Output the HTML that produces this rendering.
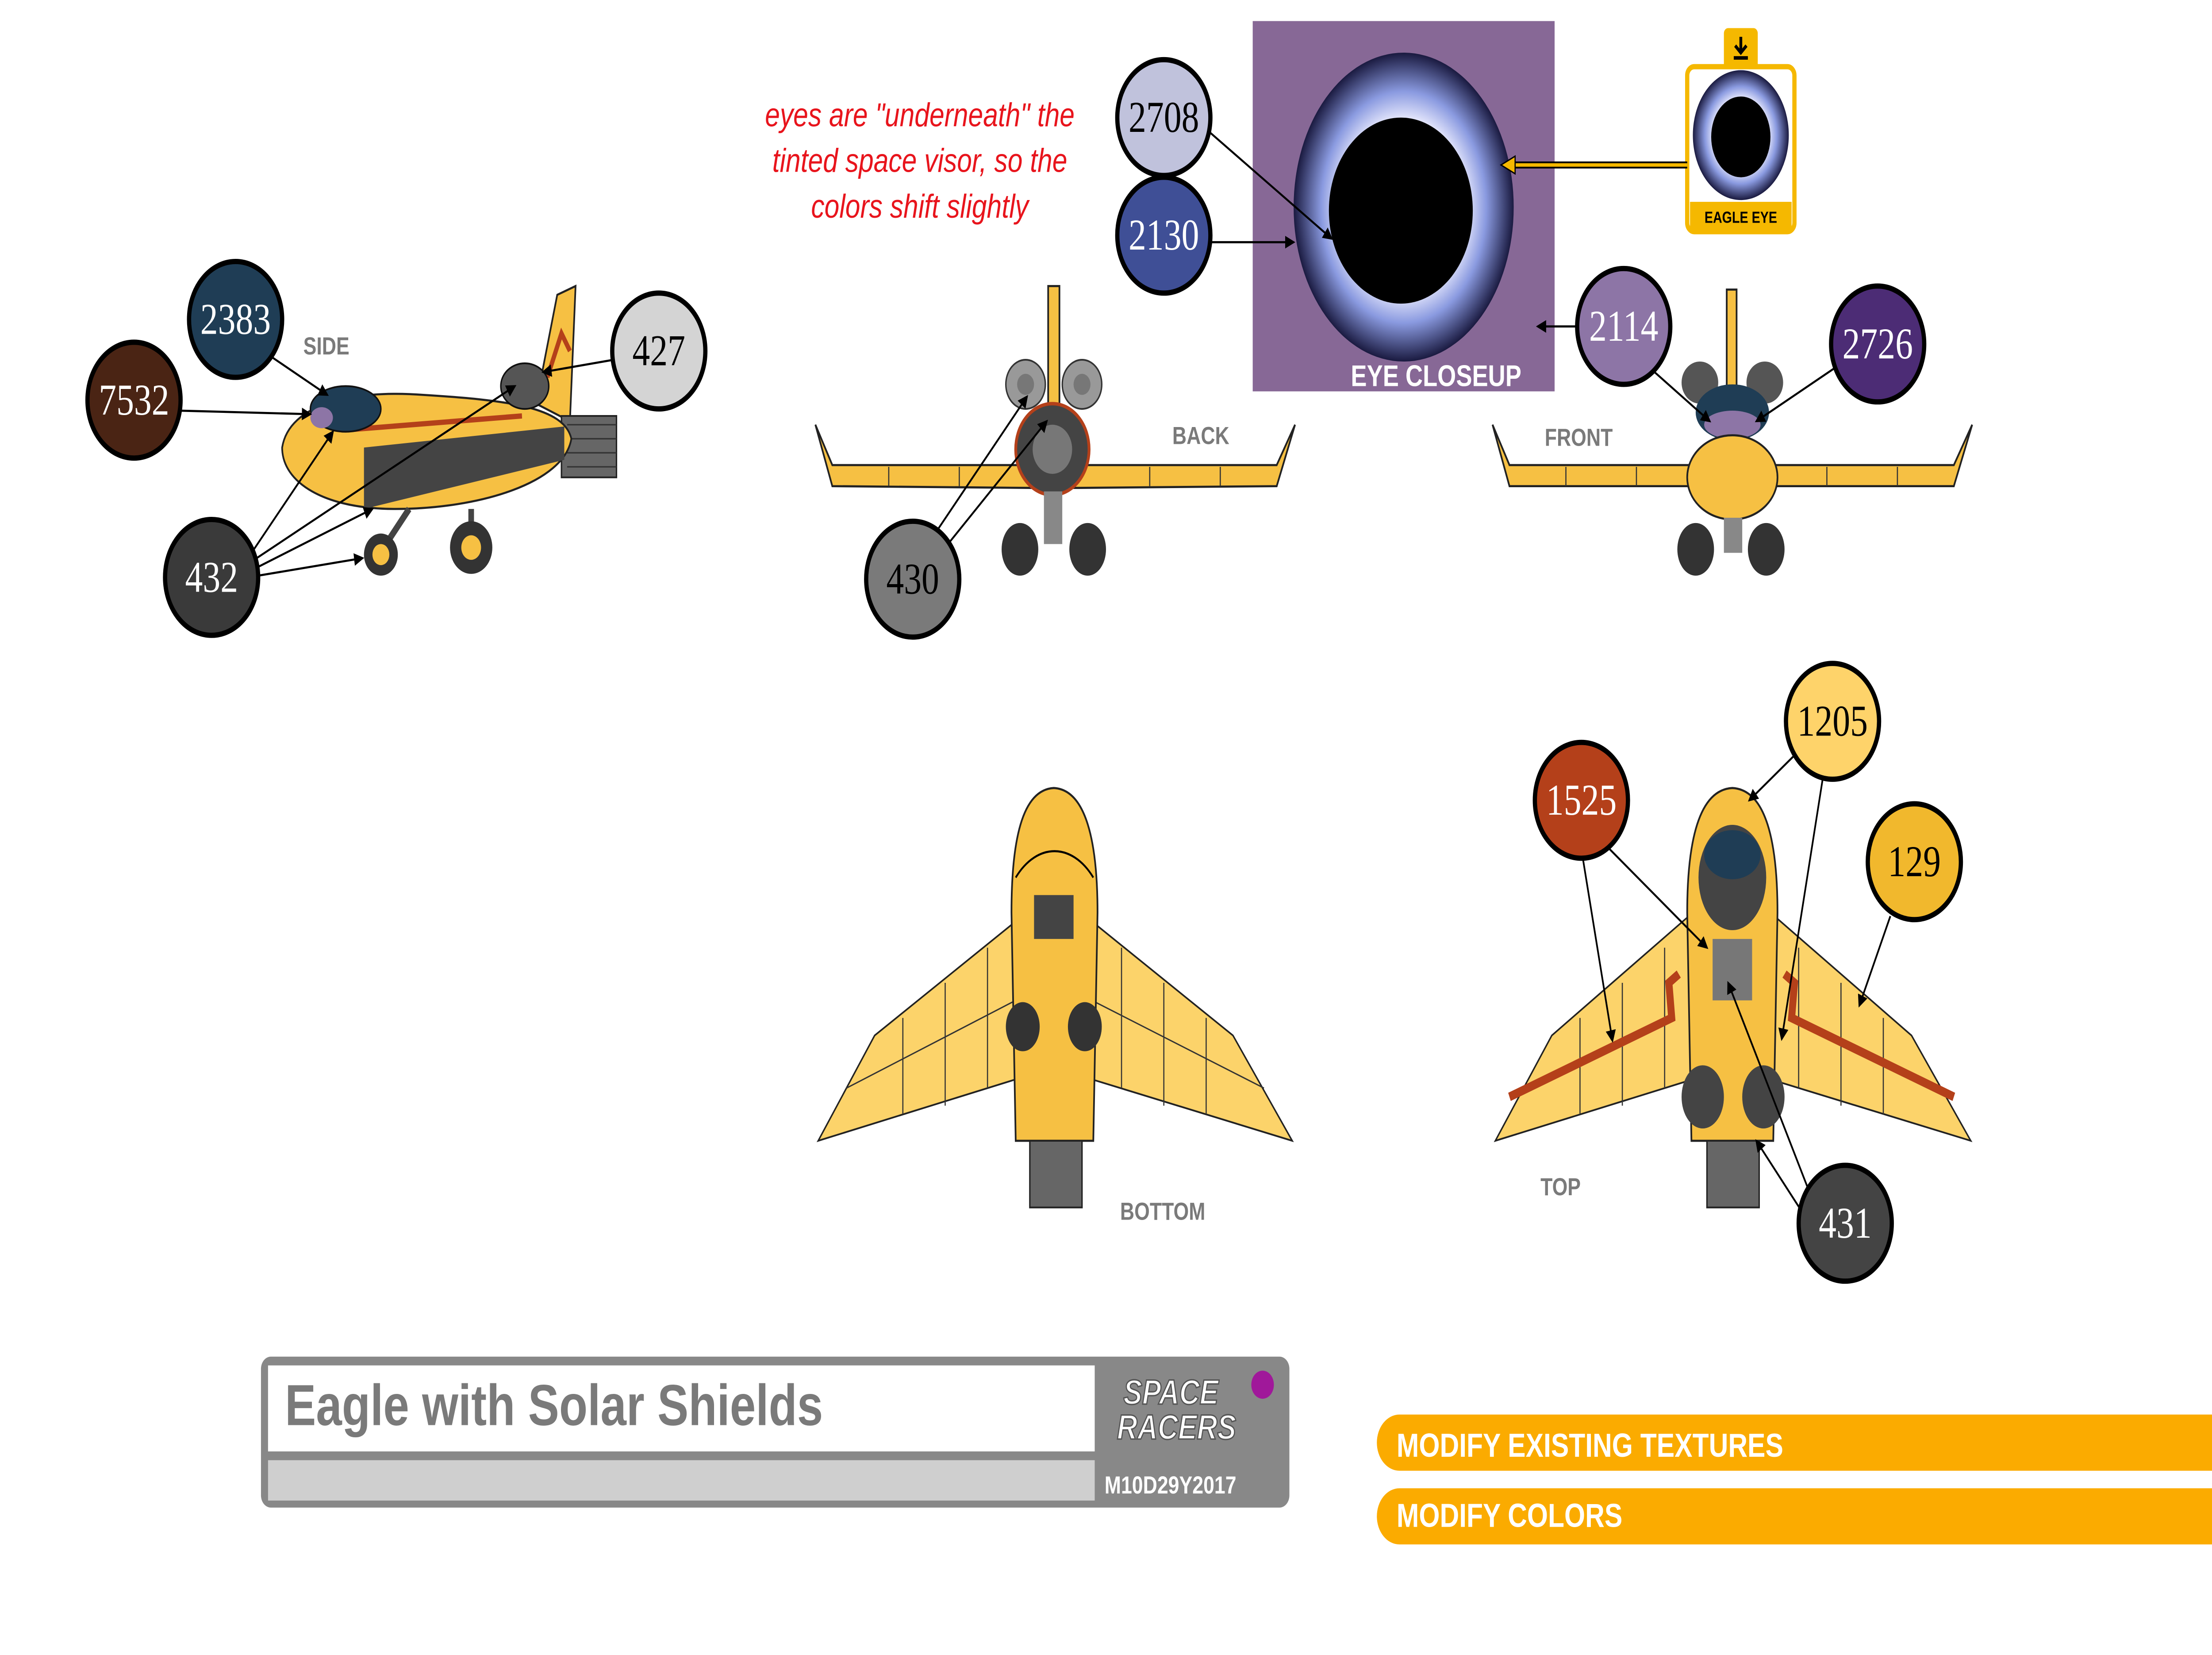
<!DOCTYPE html>
<html><head><meta charset="utf-8"><style>
html,body{margin:0;padding:0;background:#fff;width:100%;height:100%;overflow:hidden}
svg{display:block;position:absolute;left:0;top:0;width:100vw;height:100vh}
.n{font-family:"Liberation Serif",serif;font-size:25px;text-anchor:middle;dominant-baseline:central}
.lb{font-family:"Liberation Sans",sans-serif;font-weight:bold;font-size:14px;fill:#7a7a7a}
.c{stroke:#000;stroke-width:3}
.l{stroke:#000;stroke-width:1.2;fill:none}
.p{stroke:#333;stroke-width:0.8;fill:none}
.y{fill:#f6c043;stroke:#222;stroke-width:1.2}
.yl{fill:#fcd36a;stroke:#222;stroke-width:1}
.g{fill:#666;stroke:#222;stroke-width:1}
</style></head><body>
<svg viewBox="0 0 1568 943" preserveAspectRatio="none" xmlns="http://www.w3.org/2000/svg">
<defs>
<marker id="a" markerWidth="6" markerHeight="6" refX="5" refY="3" orient="auto"><path d="M0,0L6,3L0,6z" fill="#000"/></marker>
<radialGradient id="eg" cx="50%" cy="50%" r="50%"><stop offset="55%" stop-color="#f0f0ff"/><stop offset="75%" stop-color="#8a9ae0"/><stop offset="100%" stop-color="#1a1a40"/></radialGradient>
</defs>

<rect x="888" y="12" width="214" height="211" fill="#876896"/>
<ellipse cx="995" cy="118" rx="78" ry="88" fill="url(#eg)"/>
<ellipse cx="993" cy="120" rx="51" ry="53" fill="#000"/>
<text x="1018" y="220" font-family="Liberation Sans,sans-serif" font-size="17" font-weight="bold" fill="#fff" text-anchor="middle">EYE CLOSEUP</text>

<rect x="1222" y="16" width="24" height="24" rx="3" fill="#f5b800"/>
<path d="M1234,21v9M1230,26l4,4l4,-4M1229,33h10" stroke="#000" stroke-width="2" fill="none"/>
<rect x="1196" y="38" width="76" height="94" rx="5" fill="#fff" stroke="#f5b800" stroke-width="3"/>
<ellipse cx="1234" cy="77" rx="34" ry="37" fill="url(#eg)"/>
<ellipse cx="1234" cy="78" rx="21" ry="23" fill="#000"/>
<rect x="1198" y="115" width="72" height="16" fill="#f5b800"/>
<text x="1234" y="127" font-family="Liberation Sans,sans-serif" font-size="9" font-weight="bold" text-anchor="middle">EAGLE EYE</text>
<line x1="1196" y1="94" x2="1070" y2="94" stroke="#000" stroke-width="4"/>
<line x1="1196" y1="94" x2="1070" y2="94" stroke="#f5b800" stroke-width="2"/>
<path d="M1064,94l10,-5v10z" fill="#f5b800" stroke="#000" stroke-width="0.8"/>

<g font-family="Liberation Sans,sans-serif" font-style="italic" font-size="19" fill="#e8141c" text-anchor="middle">
<text x="652" y="72">eyes are "underneath" the</text>
<text x="652" y="98">tinted space visor, so the</text>
<text x="652" y="124">colors shift slightly</text>
</g>

<!-- SIDE -->
<path d="M380,230 L395,168 L408,163 L404,240z" class="y"/>
<path d="M388,215l10,-25l6,10" stroke="#b4401a" stroke-width="3" fill="none"/>
<rect x="398" y="237" width="39" height="35" class="g"/>
<path d="M402,242h35M402,250h35M402,258h35M402,266h35" class="p"/>
<path d="M200,255 C205,230 250,222 300,225 C360,228 400,232 405,250 C400,275 340,290 280,290 C230,290 200,275 200,255z" class="y"/>
<path d="M258,255 L400,243 L400,262 L258,290z" fill="#444"/>
<path d="M245,245 L370,237" stroke="#b4401a" stroke-width="3"/>
<ellipse cx="245" cy="233" rx="25" ry="13" fill="#1f3d55" stroke="#111"/>
<ellipse cx="228" cy="238" rx="8" ry="6" fill="#8d75a6"/>
<ellipse cx="372" cy="220" rx="17" ry="13" fill="#555" stroke="#111"/>
<path d="M290,290 L272,312" stroke="#444" stroke-width="4"/>
<path d="M334,290 L334,305" stroke="#444" stroke-width="4"/>
<circle cx="270" cy="316" r="12" fill="#333"/><circle cx="270" cy="316" r="6" fill="#f6c043"/>
<circle cx="334" cy="312" r="15" fill="#333"/><circle cx="334" cy="312" r="7" fill="#f6c043"/>
<text x="215" y="202" class="lb">SIDE</text>

<!-- BACK -->
<path d="M578,242 L590,265 L730,265 L765,265 L905,265 L918,242 L905,277 L765,278 L730,278 L590,277z" class="y"/>
<path d="M630,266v11M680,266v11M815,266v11M865,266v11" class="p"/>
<rect x="743" y="163" width="8" height="70" class="y"/>
<circle cx="727" cy="219" r="14" fill="#999" stroke="#333"/><circle cx="727" cy="219" r="6" fill="#777"/>
<circle cx="767" cy="219" r="14" fill="#999" stroke="#333"/><circle cx="767" cy="219" r="6" fill="#777"/>
<circle cx="746" cy="256" r="26" fill="#444" stroke="#b4401a" stroke-width="2"/>
<circle cx="746" cy="256" r="14" fill="#777"/>
<rect x="740" y="280" width="13" height="30" fill="#888"/>
<ellipse cx="723" cy="313" rx="13" ry="15" fill="#333"/><ellipse cx="771" cy="313" rx="13" ry="15" fill="#333"/>
<text x="831" y="253" class="lb">BACK</text>

<!-- FRONT -->
<path d="M1058,242 L1070,265 L1385,265 L1398,242 L1385,277 L1070,277z" class="y"/>
<path d="M1110,266v11M1160,266v11M1295,266v11M1345,266v11" class="p"/>
<rect x="1224" y="165" width="7" height="60" class="y"/>
<ellipse cx="1205" cy="218" rx="13" ry="12" fill="#555"/><ellipse cx="1251" cy="218" rx="13" ry="12" fill="#555"/>
<ellipse cx="1228" cy="235" rx="26" ry="16" fill="#1f3d55"/>
<ellipse cx="1228" cy="242" rx="20" ry="8" fill="#8d75a6"/>
<ellipse cx="1228" cy="272" rx="32" ry="24" class="y"/>
<rect x="1222" y="295" width="13" height="20" fill="#888"/>
<ellipse cx="1202" cy="313" rx="13" ry="15" fill="#333"/><ellipse cx="1252" cy="313" rx="13" ry="15" fill="#333"/>
<text x="1095" y="254" class="lb">FRONT</text>

<!-- BOTTOM -->
<path d="M720,525 L620,590 L580,650 L720,615z" class="yl"/>
<path d="M774,525 L874,590 L916,650 L774,615z" class="yl"/>
<path d="M720,570 L600,620 M700,540v80 M670,560v70 M640,580v55 M774,570 L896,620 M795,540v80 M825,560v70 M855,580v55" class="p"/>
<path d="M747,449 C770,450 778,480 778,520 L775,650 L720,650 L717,520 C717,480 724,450 747,449z" class="y"/>
<path d="M720,500 C735,480 760,480 775,500" class="l"/>
<rect x="733" y="510" width="28" height="25" fill="#444"/>
<ellipse cx="725" cy="585" rx="12" ry="14" fill="#333"/><ellipse cx="769" cy="585" rx="12" ry="14" fill="#333"/>
<rect x="730" y="650" width="37" height="38" class="g"/>
<text x="794" y="695" class="lb">BOTTOM</text>

<!-- TOP -->
<path d="M1200,520 L1100,590 L1060,650 L1200,615z" class="yl"/>
<path d="M1255,520 L1355,590 L1397,650 L1255,615z" class="yl"/>
<path d="M1180,540v80 M1150,560v70 M1120,580v55 M1275,540v80 M1305,560v70 M1335,580v55" class="p"/>
<path d="M1070,625 L1185,580 L1183,560 L1190,555" stroke="#b4401a" stroke-width="5" fill="none"/>
<path d="M1385,625 L1270,580 L1272,560 L1265,555" stroke="#b4401a" stroke-width="5" fill="none"/>
<path d="M1228,449 C1252,450 1260,480 1260,520 L1257,650 L1199,650 L1196,520 C1196,480 1204,450 1228,449z" class="y"/>
<ellipse cx="1228" cy="500" rx="24" ry="30" fill="#444"/>
<ellipse cx="1228" cy="487" rx="20" ry="14" fill="#1f3d55"/>
<rect x="1214" y="535" width="28" height="35" fill="#777"/>
<ellipse cx="1207" cy="625" rx="15" ry="18" fill="#444"/><ellipse cx="1250" cy="625" rx="15" ry="18" fill="#444"/>
<rect x="1210" y="650" width="37" height="38" class="g"/>
<text x="1092" y="681" class="lb">TOP</text>

<g class="l" marker-end="url(#a)">
<line x1="128" y1="234" x2="220" y2="236"/>
<line x1="190" y1="202" x2="232" y2="225"/>
<line x1="435" y1="205" x2="385" y2="212"/>
<line x1="180" y1="313" x2="236" y2="246"/>
<line x1="182" y1="318" x2="365" y2="220"/>
<line x1="183" y1="323" x2="264" y2="290"/>
<line x1="183" y1="328" x2="257" y2="318"/>
<line x1="662" y1="305" x2="728" y2="226"/>
<line x1="672" y1="310" x2="742" y2="240"/>
<line x1="857" y1="75" x2="944" y2="136"/>
<line x1="857" y1="138" x2="917" y2="138"/>
<line x1="1118" y1="186" x2="1090" y2="186"/>
<line x1="1170" y1="210" x2="1212" y2="240"/>
<line x1="1300" y1="210" x2="1245" y2="240"/>
<line x1="1122" y1="489" x2="1143" y2="593"/>
<line x1="1140" y1="483" x2="1210" y2="540"/>
<line x1="1275" y1="428" x2="1240" y2="456"/>
<line x1="1292" y1="444" x2="1263" y2="592"/>
<line x1="1340" y1="522" x2="1318" y2="573"/>
<line x1="1283" y1="680" x2="1225" y2="560"/>
<line x1="1277" y1="690" x2="1245" y2="650"/>
</g>

<g class="c">
<circle cx="167" cy="182" r="33" fill="#1f3d55"/>
<circle cx="95" cy="228" r="33" fill="#4a2414"/>
<circle cx="467" cy="200" r="33" fill="#d4d4d4"/>
<circle cx="150" cy="329" r="33" fill="#3a3a3a"/>
<circle cx="647" cy="330" r="33" fill="#7a7a7a"/>
<circle cx="825" cy="67" r="33" fill="#c0c2dc"/>
<circle cx="825" cy="134" r="33" fill="#3f4f96"/>
<circle cx="1151" cy="186" r="33" fill="#8d75a6"/>
<circle cx="1331" cy="196" r="33" fill="#4c2c75"/>
<circle cx="1121" cy="456" r="33" fill="#b4401a"/>
<circle cx="1299" cy="411" r="33" fill="#fed36a"/>
<circle cx="1357" cy="491" r="33" fill="#f1b82d"/>
<circle cx="1308" cy="697" r="33" fill="#444"/>
</g>
<g class="n">
<text x="167" y="182" fill="#fff">2383</text>
<text x="95" y="228" fill="#fff">7532</text>
<text x="467" y="200" fill="#000">427</text>
<text x="150" y="329" fill="#fff">432</text>
<text x="647" y="330" fill="#000">430</text>
<text x="825" y="67" fill="#000">2708</text>
<text x="825" y="134" fill="#fff">2130</text>
<text x="1151" y="186" fill="#fff">2114</text>
<text x="1331" y="196" fill="#fff">2726</text>
<text x="1121" y="456" fill="#fff">1525</text>
<text x="1299" y="411" fill="#000">1205</text>
<text x="1357" y="491" fill="#000">129</text>
<text x="1308" y="697" fill="#fff">431</text>
</g>

<rect x="185" y="773" width="729" height="86" rx="7" fill="#888"/>
<rect x="190" y="778" width="586" height="49" fill="#fff"/>
<rect x="190" y="832" width="586" height="23" fill="#cfcfcf"/>
<text x="202" y="812" font-family="Liberation Sans,sans-serif" font-weight="bold" font-size="33" fill="#7a7a7a">Eagle with Solar Shields</text>
<text x="830" y="800" font-family="Liberation Sans,sans-serif" font-weight="bold" font-style="italic" font-size="20" fill="#fff" stroke="#555" stroke-width="0.8" text-anchor="middle">SPACE</text>
<text x="834" y="820" font-family="Liberation Sans,sans-serif" font-weight="bold" font-style="italic" font-size="20" fill="#fff" stroke="#555" stroke-width="0.8" text-anchor="middle">RACERS</text>
<circle cx="895" cy="789" r="8" fill="#a0189a"/>
<text x="783" y="851" font-family="Liberation Sans,sans-serif" font-weight="bold" font-size="14" fill="#fff">M10D29Y2017</text>

<path d="M992,806 H1568 V838 H992 A16,16 0 0 1 992,806z" fill="#fbab00"/>
<path d="M992,848 H1568 V880 H992 A16,16 0 0 1 992,848z" fill="#fbab00"/>
<g font-family="Liberation Sans,sans-serif" font-weight="bold" font-size="19" fill="#fff">
<text x="990" y="830">MODIFY EXISTING TEXTURES</text>
<text x="990" y="870">MODIFY COLORS</text>
</g>
</svg>
</body></html>
